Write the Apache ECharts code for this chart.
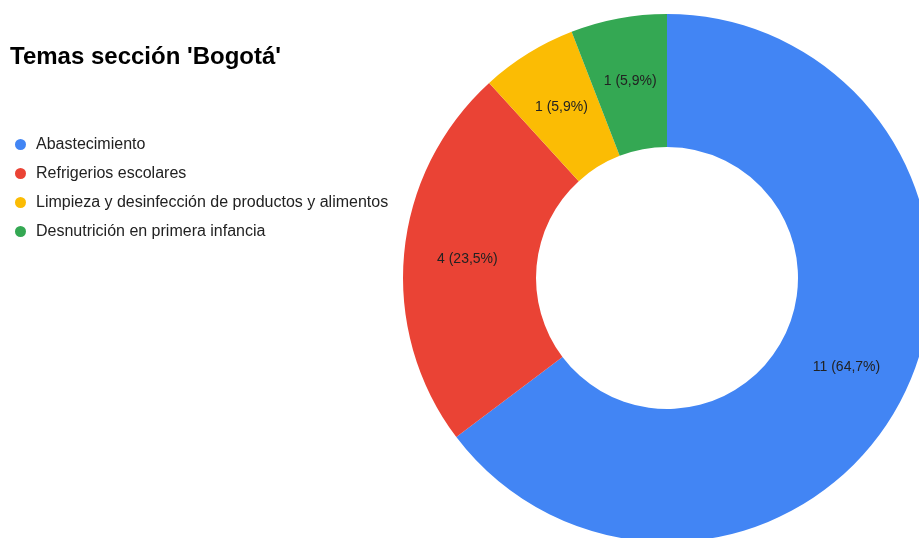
<!DOCTYPE html>
<html>
<head>
<meta charset="utf-8">
<script src="https://cdn.jsdelivr.net/npm/echarts@6/dist/echarts.min.js"></script>
<style>
html,body{margin:0;padding:0;background:#fff;}
#chart{width:919px;height:538px;}
</style>
</head>
<body>
<div id="chart"></div>
<script>
const titleText = "Temas sección 'Bogotá'";
const categories = ["Abastecimiento", "Refrigerios escolares", "Limpieza y desinfección de productos y alimentos", "Desnutrición en primera infancia"];
const values = [11, 4, 1, 1];
const colors = ["#4285F4", "#EA4335", "#FBBC04", "#34A853"];

const chart = echarts.init(document.getElementById('chart'), null, {renderer: 'canvas'});
chart.setOption({
  animation: false,
  backgroundColor: '#ffffff',
  color: colors,
  title: {
    text: titleText,
    left: 10,
    top: 45,
    padding: 0,
    textStyle: {fontFamily: 'Liberation Sans, Arial, sans-serif', fontSize: 24, fontWeight: 'bold', color: '#000'}
  },
  legend: {
    orient: 'vertical',
    left: 15,
    top: 136,
    padding: 0,
    icon: 'circle',
    itemWidth: 11,
    itemHeight: 11,
    itemGap: 12,
    textStyle: {fontFamily: 'Liberation Sans, Arial, sans-serif', fontSize: 16, color: '#222', lineHeight: 17, padding: [0, 0, 0, 5]}
  },
  series: [{
    type: 'pie',
    center: [667, 278],
    radius: [131, 264],
    startAngle: 90,
    clockwise: true,
    avoidLabelOverlap: false,
    label: {
      show: true,
      position: 'inside',
      fontFamily: 'Liberation Sans, Arial, sans-serif',
      fontSize: 14,
      color: '#222',
      formatter: function (p) { return p.value + ' (' + p.percent.toFixed(1).replace('.', ',') + '%)'; }
    },
    labelLine: {show: false},
    emphasis: {disabled: true},
    data: categories.map((c, i) => ({name: c, value: values[i]}))
  }]
});
</script>
</body>
</html>
